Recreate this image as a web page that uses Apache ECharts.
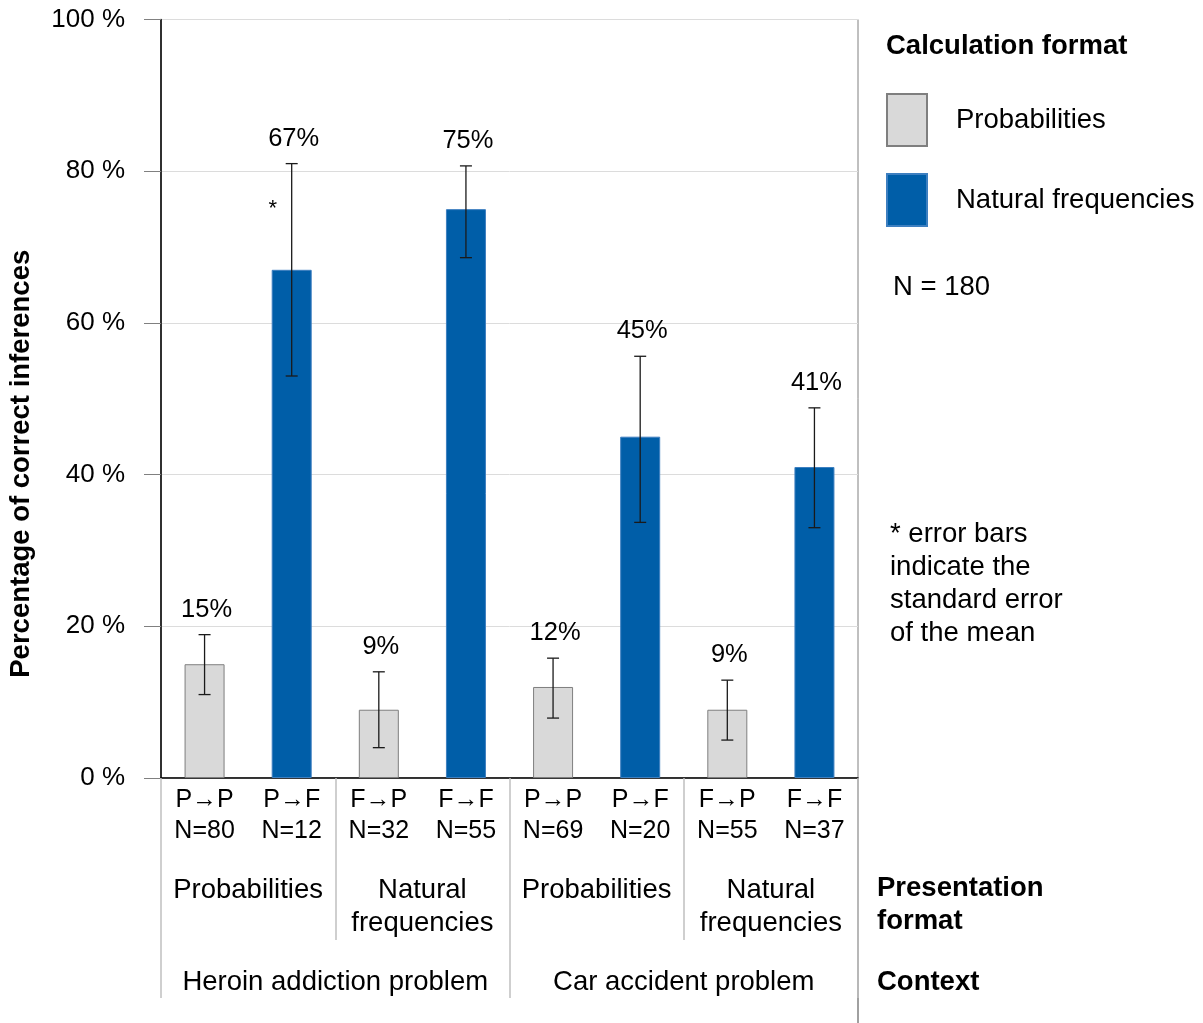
<!DOCTYPE html>
<html>
<head>
<meta charset="utf-8">
<script src="https://cdn.jsdelivr.net/npm/echarts@6/dist/echarts.min.js"></script>
<style>
  html, body { margin: 0; padding: 0; background: #fff; }
  #chart { width: 1203px; height: 1023px; }
</style>
</head>
<body>
<div id="chart"></div>
<script>
// bar categories (calculation pattern + sample size)
var categories = ['P→P\nN=80', 'P→F\nN=12', 'F→P\nN=32', 'F→F\nN=55',
                  'P→P\nN=69', 'P→F\nN=20', 'F→P\nN=55', 'F→F\nN=37'];
var presentation = ['Probabilities', 'Natural\nfrequencies', 'Probabilities', 'Natural\nfrequencies'];
var contexts = ['Heroin addiction problem', 'Car accident problem'];

// percentages of correct inferences
var probabilities = [15, null, 9, null, 12, null, 9, null];
var naturalFreq   = [null, 67, null, 75, null, 45, null, 41];

// standard error bars (low / high)
var errLow  = [11, 53, 4, 68.6, 7.9, 33.7, 5, 33];
var errHigh = [18.9, 81, 14, 80.7, 15.8, 55.6, 12.9, 48.8];

var asterisk = [1, 75];

var font = "'Liberation Sans', Arial, sans-serif";
var gridL = 161, gridR = 858, gridT = 19.5, gridB = 778;

var dom = document.getElementById('chart');
var chart = echarts.init(dom);

var errData = categories.map(function (c, i) {
  var v = probabilities[i] != null ? probabilities[i] : naturalFreq[i];
  return [i, errLow[i], errHigh[i], v];
});

var option = {
  animation: false,
  textStyle: { fontFamily: font },
  grid: {
    left: gridL, right: 1203 - gridR, top: gridT, bottom: 1023 - gridB,
    outerBoundsMode: 'none',
    containLabel: false,
    show: true, borderColor: '#808080', borderWidth: 1
  },
  legend: {
    data: ['Probabilities', 'Natural frequencies'],
    orient: 'vertical',
    left: 886, top: 93,
    padding: 0,
    itemWidth: 40, itemHeight: 52, itemGap: 26,
    icon: 'rect',
    selectedMode: false,
    textStyle: { fontSize: 27.5, fontFamily: font, color: '#000', padding: [6, 0, 0, 24] }
  },
  xAxis: [
    {
      type: 'category',
      data: categories,
      axisLine: { lineStyle: { color: '#000', width: 1.5 } },
      axisTick: { show: false },
      axisLabel: { interval: 0, fontSize: 25, lineHeight: 31, color: '#000', margin: 7, fontFamily: font }
    },
    {
      type: 'category',
      data: presentation,
      position: 'bottom',
      axisLine: { show: false },
      axisTick: { show: true, length: 162, lineStyle: { color: '#c0c0c0', width: 1.5 } },
      axisLabel: { interval: 0, fontSize: 27.5, lineHeight: 33, color: '#000', margin: 96, fontFamily: font }
    },
    {
      type: 'category',
      data: contexts,
      position: 'bottom',
      axisLine: { show: false },
      axisTick: { show: true, length: 220, lineStyle: { color: '#c0c0c0', width: 1.5 } },
      axisLabel: { interval: 0, fontSize: 27.5, lineHeight: 33, color: '#000', margin: 188, fontFamily: font }
    }
  ],
  yAxis: {
    type: 'value',
    min: 0, max: 100, interval: 20,
    name: 'Percentage of correct inferences',
    nameLocation: 'middle',
    nameRotate: 90,
    nameGap: 126,
    nameTextStyle: { fontSize: 27.5, fontWeight: 'bold', color: '#000', fontFamily: font, padding: [0, 130, 0, 0] },
    axisLine: { show: true, lineStyle: { color: '#000', width: 1.5 } },
    axisTick: { show: true, length: 17, lineStyle: { color: '#808080' } },
    axisLabel: { formatter: '{value} %', fontSize: 26, color: '#000', margin: 36, fontFamily: font },
    splitLine: { lineStyle: { color: '#dcdcdc', width: 1 } }
  },
  series: [
    {
      name: 'Probabilities',
      type: 'bar',
      data: probabilities,
      barWidth: 40,
      barGap: '-100%',
      itemStyle: { color: '#d9d9d9', borderColor: '#7f7f7f', borderWidth: 1 }
    },
    {
      name: 'Natural frequencies',
      type: 'bar',
      data: naturalFreq,
      barWidth: 40,
      itemStyle: { color: '#005ea8', borderColor: '#3d7fc0', borderWidth: 1 }
    },
    {
      name: 'error',
      type: 'custom',
      z: 5,
      data: errData,
      renderItem: function (params, api) {
        var x = api.value(0);
        var top = api.coord([x, api.value(2)]);
        var bot = api.coord([x, api.value(1)]);
        var cx = top[0];
        var st = { stroke: '#1a1a1a', lineWidth: 1.3 };
        return {
          type: 'group',
          children: [
            { type: 'line', shape: { x1: cx, y1: top[1], x2: cx, y2: bot[1] }, style: st },
            { type: 'line', shape: { x1: cx - 6, y1: top[1], x2: cx + 6, y2: top[1] }, style: st },
            { type: 'line', shape: { x1: cx - 6, y1: bot[1], x2: cx + 6, y2: bot[1] }, style: st },
            {
              type: 'text', x: cx + 2, y: top[1] - 25,
              style: { text: api.value(3) + '%', font: '25.5px ' + font, fill: '#000', align: 'center', verticalAlign: 'middle' }
            }
          ]
        };
      }
    }
  ]
};
chart.setOption(option);

var star = chart.convertToPixel({ seriesIndex: 0 }, asterisk);
chart.setOption({
  graphic: [
    { type: 'text', x: star[0] - 19, y: star[1], style: { text: '*', font: '22px ' + font, fill: '#000', align: 'center', verticalAlign: 'middle' } },
    { type: 'line', shape: { x1: gridR, y1: gridB, x2: gridR, y2: 1023 }, style: { stroke: '#808080', lineWidth: 1.5 } },
    { type: 'text', x: 886, y: 46, style: { text: 'Calculation format', font: 'bold 27.5px ' + font, fill: '#000', verticalAlign: 'middle' } },
    { type: 'text', x: 893, y: 287, style: { text: 'N = 180', font: '27.5px ' + font, fill: '#000', verticalAlign: 'middle' } },
    { type: 'text', x: 890, y: 518, style: { text: '* error bars\nindicate the\nstandard error\nof the mean', font: '27.5px ' + font, lineHeight: 33, fill: '#000', verticalAlign: 'top' } },
    { type: 'text', x: 877, y: 872, style: { text: 'Presentation\nformat', font: 'bold 27.5px ' + font, lineHeight: 33, fill: '#000', verticalAlign: 'top' } },
    { type: 'text', x: 877, y: 982, style: { text: 'Context', font: 'bold 27.5px ' + font, fill: '#000', verticalAlign: 'middle' } }
  ]
});
</script>
</body>
</html>
